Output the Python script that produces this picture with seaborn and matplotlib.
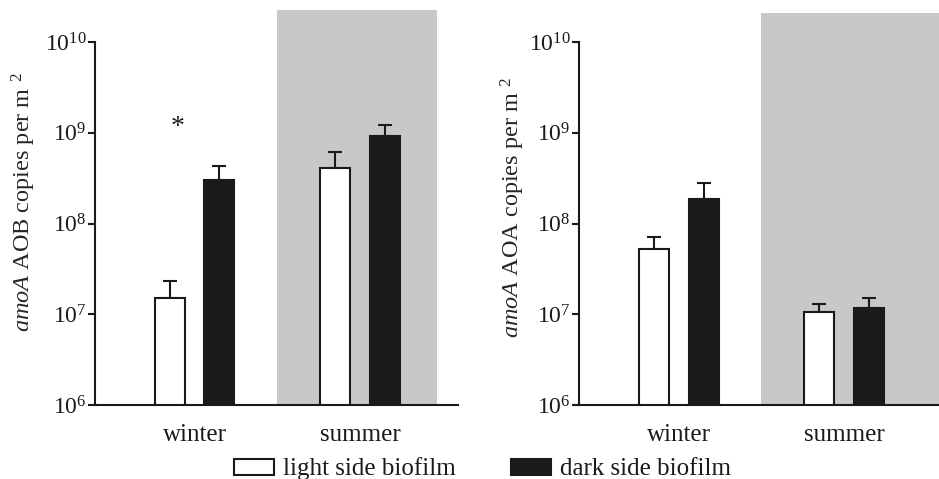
import numpy as np
import pandas as pd
import matplotlib
matplotlib.use("Agg")
import matplotlib.pyplot as plt
from matplotlib.patches import Patch
from matplotlib.ticker import LogFormatterMathtext, NullLocator
import seaborn as sns

# Season categories and biofilm sides
seasons = ["winter", "summer"]
sides = ["light side biofilm", "dark side biofilm"]

# amoA AOB gene copies per m2 (mean and upper standard error)
aob_light = [1.5e7, 4.1e8]
aob_dark = [3.0e8, 9.2e8]
aob_light_err = [0.8e7, 2.1e8]
aob_dark_err = [1.3e8, 3.1e8]

# amoA AOA gene copies per m2 (mean and upper standard error)
aoa_light = [5.2e7, 1.06e7]
aoa_dark = [1.85e8, 1.16e7]
aoa_light_err = [1.9e7, 0.25e7]
aoa_dark_err = [0.92e8, 0.34e7]

decade_ticks = [1e6, 1e7, 1e8, 1e9, 1e10]

INK = "#1a1a1a"
BAND = "#c8c8c8"

sns.set_style("ticks")
plt.rcParams["font.family"] = ["Liberation Serif", "DejaVu Serif"]
plt.rcParams["mathtext.fontset"] = "custom"
plt.rcParams["mathtext.rm"] = "Liberation Serif"
plt.rcParams["mathtext.it"] = "Liberation Serif:italic"
plt.rcParams["text.color"] = INK
plt.rcParams["axes.edgecolor"] = INK
plt.rcParams["xtick.color"] = INK
plt.rcParams["ytick.color"] = INK


def draw_panel(ax, light, dark, light_err, dark_err, ylabel, ytop, band_right, label_xy):
    df = pd.DataFrame({
        "season": seasons * 2,
        "side": [sides[0]] * len(seasons) + [sides[1]] * len(seasons),
        "copies": list(light) + list(dark),
    })
    ax.set_yscale("log")
    sns.barplot(data=df, x="season", y="copies", hue="side",
                order=seasons, hue_order=sides,
                palette=["white", INK], saturation=1,
                width=0.6, gap=0.4, errorbar=None,
                edgecolor=INK, linewidth=1.5, legend=False, ax=ax, zorder=2)

    # upper-only error bars on top of each bar
    for container, vals, errs in zip(ax.containers, [light, dark], [light_err, dark_err]):
        xs = [b.get_x() + b.get_width() / 2 for b in container]
        ax.errorbar(xs, vals, yerr=[np.zeros(len(errs)), errs], fmt="none",
                    ecolor=INK, elinewidth=1.5, capsize=5, capthick=1.5, zorder=1.5)

    # shaded summer period
    ax.axvspan(0.5, band_right, color=BAND, lw=0, zorder=0)

    ax.set_xlim(-0.6, 1.59)
    ax.set_ylim(1e6, ytop)
    ax.set_yticks(decade_ticks)
    ax.yaxis.set_major_formatter(LogFormatterMathtext())
    ax.yaxis.set_minor_locator(NullLocator())

    for s in ["top", "right"]:
        ax.spines[s].set_visible(False)
    ax.spines["left"].set_bounds(decade_ticks[0], decade_ticks[-1])
    ax.spines["left"].set_linewidth(1.5)
    ax.spines["bottom"].set_linewidth(1.5)

    ax.tick_params(axis="y", which="major", length=5, width=1.5, pad=1, labelsize=17)
    ax.tick_params(axis="x", length=0, pad=14, labelsize=18)
    ax.set_xlabel("")
    ax.set_ylabel(ylabel, fontsize=17.5)
    ax.yaxis.set_label_coords(*label_xy)


fig = plt.figure(figsize=(9.39, 4.79), dpi=100)
ax1 = fig.add_axes([0.1012, 0.1545, 0.3866, 0.8246])
ax2 = fig.add_axes([0.6166, 0.1545, 0.3834, 0.8184])

draw_panel(ax1, aob_light, aob_dark, aob_light_err, aob_dark_err,
           r"$\mathit{amoA}$ AOB copies per m $^{2}$", 10 ** 10.353, 1.464, (-0.157, 0.514))
draw_panel(ax2, aoa_light, aoa_dark, aoa_light_err, aoa_dark_err,
           r"$\mathit{amoA}$ AOA copies per m $^{2}$", 10 ** 10.32, 1.7, (-0.144, 0.503))
ax2.set_xlim(-0.606, 1.576)

# significance marker for winter AOB
ax1.text(-0.1, 1.15e9, "*", ha="center", va="center", fontsize=20)

handles = [
    Patch(facecolor="white", edgecolor=INK, linewidth=1.5, label=sides[0]),
    Patch(facecolor=INK, edgecolor=INK, linewidth=1.5, label=sides[1]),
]
fig.legend(handles=handles, loc="center", bbox_to_anchor=(0.514, 0.021), ncol=2,
           frameon=False, fontsize=18, handlelength=1.6, handleheight=0.6,
           handletextpad=0.36, columnspacing=2.2, borderpad=0, borderaxespad=0)

fig.savefig("out.png", dpi=100)
